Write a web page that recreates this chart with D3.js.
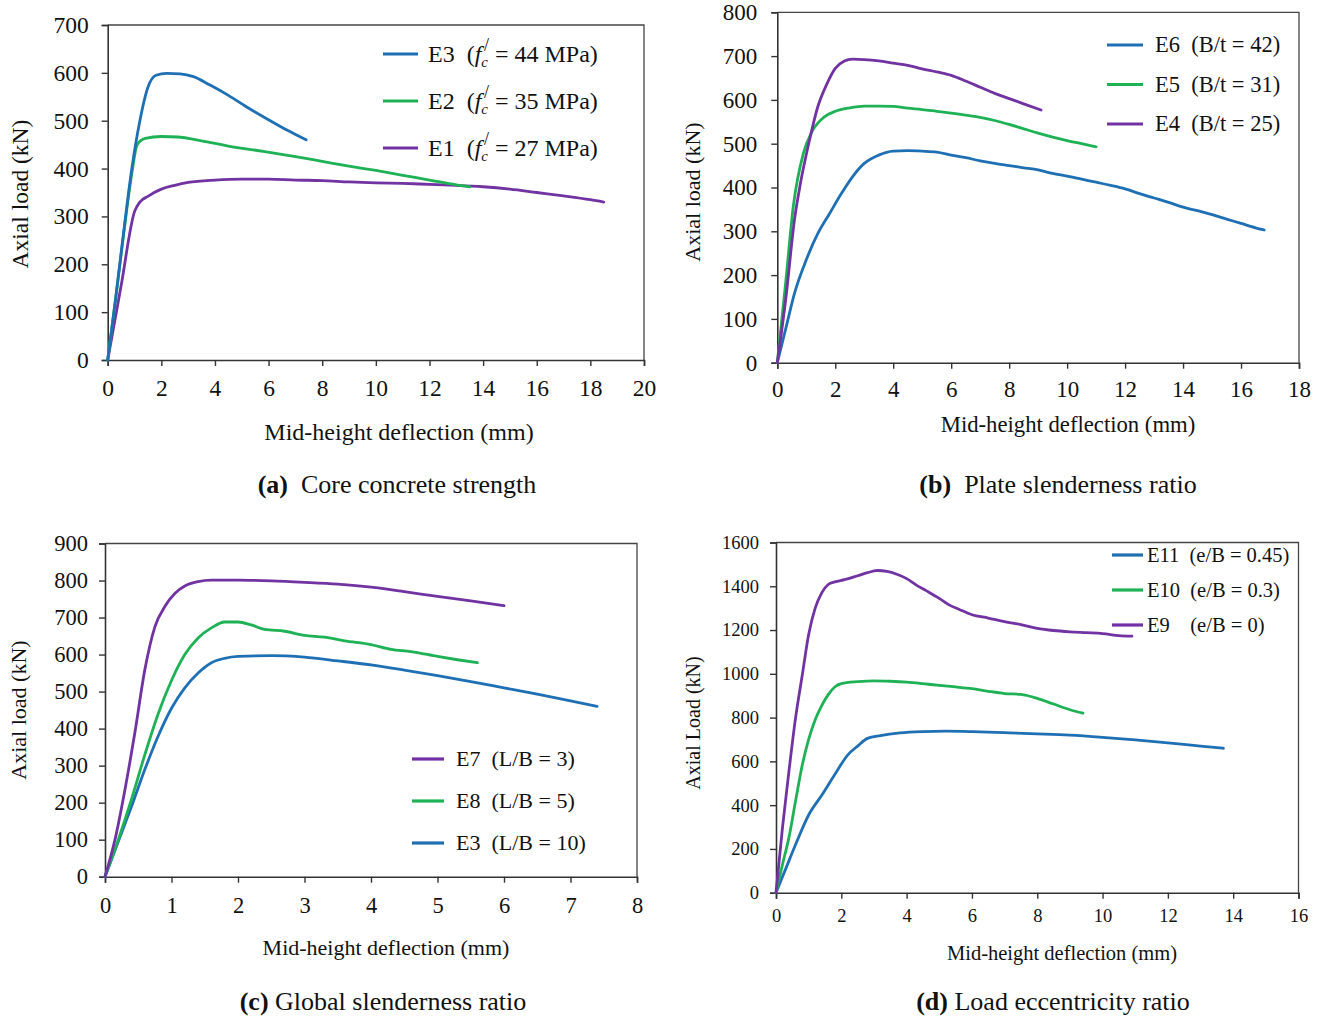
<!DOCTYPE html>
<html><head><meta charset="utf-8">
<script src="https://cdn.jsdelivr.net/npm/d3@7"></script>
<style>
body{margin:0;background:#fff;}
svg{display:block;font-family:"Liberation Serif","Times New Roman",serif;}
text{white-space:pre;}
</style></head><body>
<svg id="c" width="1322" height="1017"></svg>
<script>
// ---------- DATA ----------
// Panel (a): core concrete strength
const aE3 = [[0,0],[0.3,130],[0.6,270],[0.9,400],[1.2,500],[1.5,570],[1.8,595],[2.2,599],[2.7,598],[3.2,592],[3.8,575],[4.5,553],[5.2,528],[6,502],[6.7,480],[7.4,460]];
const aE2 = [[0,0],[0.3,130],[0.6,265],[0.9,390],[1.1,450],[1.4,463],[2,467],[2.6,466],[3.5,458],[4.5,447],[5.8,436],[7,425],[8,415],[9,405],[10,396],[11,386],[12,376],[13,366],[13.5,362]];
const aE1 = [[0,0],[0.5,155],[1.0,310],[1.2,330],[1.5,342],[2,357],[2.5,365],[3,371],[4,376],[5,378],[6,378],[7,376],[8,375],[9,372],[10,370],[11,369],[12,367],[13,365],[14,362],[15,357],[16,350],[17,343],[18,335],[18.5,330]];
// Panel (b): plate slenderness ratio
const bE6 = [[0,0],[0.3,80],[0.6,160],[1,235],[1.4,295],[1.8,340],[2.2,385],[2.6,425],[3,455],[3.5,474],[4,483],[4.5,484],[5,483],[5.5,481],[6,474],[6.5,468],[7,461],[7.5,455],[8,450],[8.5,445],[9,440],[9.5,432],[10,426],[10.5,419],[11,412],[11.5,405],[12,397],[12.5,386],[13,376],[13.5,366],[14,355],[14.5,347],[15,338],[15.5,328],[16,318],[16.5,308],[16.8,303]];
const bE5 = [[0,0],[0.3,190],[0.55,356],[0.9,478],[1.2,528],[1.6,560],[2,574],[2.5,582],[3,586],[3.5,586],[4,585],[4.5,581],[5,578],[5.5,574],[6,570],[6.5,565],[7,560],[7.5,553],[8,544],[8.5,534],[9,524],[9.5,515],[10,507],[10.5,500],[11,493]];
const bE4 = [[0,0],[0.3,150],[0.6,330],[0.8,410],[1.1,505],[1.4,585],[1.7,635],[2.0,672],[2.3,688],[2.6,693],[3,692],[3.5,689],[4,684],[4.5,679],[5,671],[5.5,664],[6,656],[6.5,643],[7,629],[7.5,615],[8,603],[8.5,591],[9.1,577]];
// Panel (c): global slenderness ratio
const cE7 = [[0,0],[0.15,100],[0.3,235],[0.45,390],[0.6,560],[0.75,675],[0.9,730],[1.05,765],[1.2,785],[1.4,797],[1.6,801],[2,801],[2.5,799],[3,795],[3.5,790],[4,782],[4.5,770],[5,757],[5.5,745],[6,732]];
const cE8 = [[0,0],[0.2,100],[0.4,210],[0.6,330],[0.8,440],[1.0,530],[1.2,600],[1.4,645],[1.6,672],[1.8,688],[2.0,688],[2.2,680],[2.4,668],[2.7,663],[3.0,652],[3.3,647],[3.6,637],[4,627],[4.3,614],[4.6,608],[5,595],[5.3,586],[5.6,578]];
const cE3 = [[0,0],[0.2,95],[0.4,190],[0.6,290],[0.8,380],[1.0,455],[1.2,510],[1.4,550],[1.6,578],[1.8,590],[2.0,595],[2.5,597],[3,593],[3.5,583],[4,572],[4.5,558],[5,543],[5.5,527],[6,510],[6.5,493],[7,475],[7.4,460]];
// Panel (d): load eccentricity ratio
const dE11 = [[0,0],[0.3,110],[0.6,220],[1.0,355],[1.4,445],[1.8,540],[2.2,630],[2.5,670],[2.8,705],[3.2,718],[3.8,730],[4.5,736],[5.2,738],[6,736],[7,731],[8,726],[9,720],[10,710],[11,698],[12,685],[13,670],[13.7,660]];
const dE10 = [[0,0],[0.2,130],[0.4,255],[0.6,420],[0.8,580],[1.0,700],[1.2,790],[1.4,855],[1.6,905],[1.8,940],[2.0,955],[2.5,964],[3,968],[3.5,966],[4,962],[4.5,955],[5,947],[5.5,940],[6,932],[6.5,920],[7,910],[7.5,906],[8,888],[8.5,862],[9,836],[9.4,820]];
const dE9 = [[0,0],[0.2,300],[0.4,560],[0.6,800],[0.8,990],[1.0,1180],[1.2,1300],[1.4,1370],[1.6,1408],[1.8,1420],[2.1,1430],[2.5,1448],[2.8,1462],[3.1,1472],[3.4,1468],[3.7,1455],[4.0,1435],[4.3,1405],[4.6,1380],[5.0,1345],[5.3,1315],[5.6,1295],[6.0,1270],[6.5,1255],[7.0,1238],[7.5,1225],[8.0,1208],[8.5,1198],[9.0,1192],[9.5,1188],[10,1184],[10.5,1175],[10.9,1172]];

const xTicksA = [0,2,4,6,8,10,12,14,16,18,20];
const yTicksA = [0,100,200,300,400,500,600,700];
const xTicksB = [0,2,4,6,8,10,12,14,16,18];
const yTicksB = [0,100,200,300,400,500,600,700,800];
const xTicksC = [0,1,2,3,4,5,6,7,8];
const yTicksC = [0,100,200,300,400,500,600,700,800,900];
const xTicksD = [0,2,4,6,8,10,12,14,16];
const yTicksD = [0,200,400,600,800,1000,1200,1400,1600];

const BLUE = "#1f6fb5", GREEN = "#1fb155", PURPLE = "#7132a2";

// ---------- DRAW ----------
const svg = d3.select("#c");

function panel(cfg){
  const g = svg.append("g");
  const x = d3.scaleLinear().domain(cfg.xd).range([cfg.x0, cfg.x1]);
  const y = d3.scaleLinear().domain(cfg.yd).range([cfg.y0, cfg.y1]);
  g.append("path").attr("d", `M${cfg.x0},${cfg.y1}H${cfg.x1}V${cfg.y0}`)
    .attr("fill","none").attr("stroke","#444").attr("stroke-width",1.3);
  const fs = cfg.fs;
  const xa = g.append("g").attr("transform",`translate(0,${cfg.y0})`)
    .call(d3.axisBottom(x).tickValues(cfg.xt).tickSize(6).tickPadding(cfg.xpad).tickFormat(d3.format("d")));
  const ya = g.append("g").attr("transform",`translate(${cfg.x0},0)`)
    .call(d3.axisLeft(y).tickValues(cfg.yt).tickSize(6).tickPadding(cfg.ypad).tickFormat(d3.format("d")));
  [xa,ya].forEach(a=>{
    a.select(".domain").attr("stroke","#333").attr("stroke-width",1.6);
    a.selectAll(".tick line").attr("stroke","#333").attr("stroke-width",1.4);
    a.selectAll("text").attr("font-family","Liberation Serif").attr("font-size",fs).attr("fill","#111");
  });
  const line = d3.line().x(d=>x(d[0])).y(d=>y(d[1])).curve(d3.curveMonotoneX);
  cfg.series.forEach(s=>{
    g.append("path").datum(s.data).attr("d",line).attr("fill","none")
      .attr("stroke",s.color).attr("stroke-width",2.8).attr("stroke-linejoin","round").attr("stroke-linecap","round");
  });
  g.append("text").attr("x",cfg.xlab[0]).attr("y",cfg.xlab[1]).attr("text-anchor","middle")
    .attr("font-size",cfg.lfs).attr("fill","#111").text("Mid-height deflection (mm)");
  g.append("text").attr("transform",`translate(${cfg.ylab[0]},${cfg.ylab[1]}) rotate(-90)`).attr("text-anchor","middle")
    .attr("font-size",cfg.yfs).attr("fill","#111").text(cfg.ytitle);
  const cap = g.append("text").attr("x",cfg.cap[0]).attr("y",cfg.cap[1]).attr("text-anchor","middle")
    .attr("font-size",26).attr("fill","#111");
  cap.append("tspan").attr("font-weight","bold").text(cfg.capB);
  cap.append("tspan").text(cfg.capT);
  cfg.legend.forEach((L,i)=>{
    const yy = cfg.leg.y + i*cfg.leg.dy;
    g.append("line").attr("x1",cfg.leg.x1).attr("x2",cfg.leg.x2).attr("y1",yy).attr("y2",yy)
      .attr("stroke",L.color).attr("stroke-width",3.2);
    const t = g.append("text").attr("x",cfg.leg.tx).attr("y",yy+cfg.leg.fs*0.33).attr("font-size",cfg.leg.fs).attr("fill","#111");
    if (L.fc){
      t.append("tspan").text(L.name+"  (");
      t.append("tspan").attr("font-style","italic").text("f");
      t.append("tspan").attr("font-size",cfg.leg.fs*0.62).attr("font-style","italic").attr("dy",5).text("c");
      t.append("tspan").attr("font-size",cfg.leg.fs*0.75).attr("dx",-4).attr("dy",-16).text("/");
      t.append("tspan").attr("dy",11).text(" = "+L.fc+" MPa)");
    } else {
      t.text(L.name);
    }
  });
}

panel({xd:[0,20], yd:[0,700], x0:107.7, x1:644, y0:360, y1:25, xt:xTicksA, yt:yTicksA, fs:23.5, lfs:24, yfs:23.5, xpad:13, ypad:13,
  ytitle:"Axial load (kN)", xlab:[399,440], ylab:[28,194], cap:[397,493], capB:"(a)", capT:"  Core concrete strength",
  series:[{data:aE1,color:PURPLE},{data:aE2,color:GREEN},{data:aE3,color:BLUE}],
  leg:{x1:383,x2:418,tx:428,y:54,dy:47,fs:24},
  legend:[{name:"E3",fc:"44",color:BLUE},{name:"E2",fc:"35",color:GREEN},{name:"E1",fc:"27",color:PURPLE}]});

panel({xd:[0,18], yd:[0,800], x0:777.3, x1:1299, y0:362.7, y1:12.3, xt:xTicksB, yt:yTicksB, fs:23, lfs:22.7, yfs:22, xpad:12, ypad:14,
  ytitle:"Axial load (kN)", xlab:[1068,432], ylab:[700,192], cap:[1058,493], capB:"(b)", capT:"  Plate slenderness ratio",
  series:[{data:bE6,color:BLUE},{data:bE5,color:GREEN},{data:bE4,color:PURPLE}],
  leg:{x1:1107,x2:1143,tx:1155,y:45,dy:39.5,fs:22.5},
  legend:[{name:"E6  (B/t = 42)",color:BLUE},{name:"E5  (B/t = 31)",color:GREEN},{name:"E4  (B/t = 25)",color:PURPLE}]});

panel({xd:[0,8], yd:[0,900], x0:105, x1:637, y0:876.7, y1:543.5, xt:xTicksC, yt:yTicksC, fs:22.5, lfs:22, yfs:22, xpad:14, ypad:11,
  ytitle:"Axial load (kN)", xlab:[386,955], ylab:[26,710], cap:[383,1010], capB:"(c)", capT:" Global slenderness ratio",
  series:[{data:cE3,color:BLUE},{data:cE8,color:GREEN},{data:cE7,color:PURPLE}],
  leg:{x1:412,x2:444,tx:456,y:759,dy:42,fs:22},
  legend:[{name:"E7  (L/B = 3)",color:PURPLE},{name:"E8  (L/B = 5)",color:GREEN},{name:"E3  (L/B = 10)",color:BLUE}]});

panel({xd:[0,16], yd:[0,1600], x0:776, x1:1298.5, y0:892.7, y1:542.5, xt:xTicksD, yt:yTicksD, fs:18.5, lfs:20.5, yfs:20, xpad:10, ypad:11,
  ytitle:"Axial Load (kN)", xlab:[1062,960], ylab:[700,723], cap:[1053,1010], capB:"(d)", capT:" Load eccentricity ratio",
  series:[{data:dE11,color:BLUE},{data:dE10,color:GREEN},{data:dE9,color:PURPLE}],
  leg:{x1:1112,x2:1143,tx:1147,y:555,dy:35,fs:20.5},
  legend:[{name:"E11  (e/B = 0.45)",color:BLUE},{name:"E10  (e/B = 0.3)",color:GREEN},{name:"E9    (e/B = 0)",color:PURPLE}]});
</script></body></html>
